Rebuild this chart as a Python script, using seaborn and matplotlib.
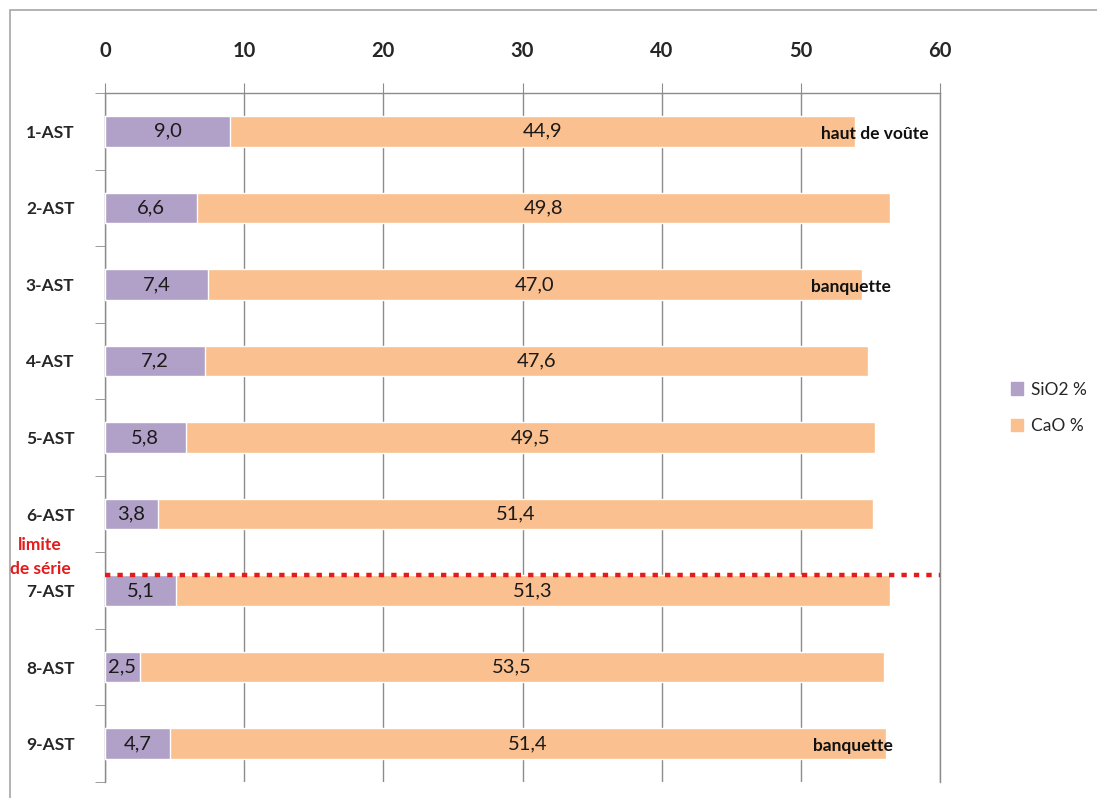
import numpy as np
import pandas as pd
import matplotlib.pyplot as plt
import matplotlib.patches as mpatches
import seaborn as sns

# data
samples = ["1-AST", "2-AST", "3-AST", "4-AST", "5-AST", "6-AST", "7-AST", "8-AST", "9-AST"]
sio2 = [9.0, 6.6, 7.4, 7.2, 5.8, 3.8, 5.1, 2.5, 4.7]
cao = [44.9, 49.8, 47.0, 47.6, 49.5, 51.4, 51.3, 53.5, 51.4]
notes = {0: ("haut de voûte", 59.2), 2: ("banquette", 56.5), 8: ("banquette", 56.6)}
xticks = [0, 10, 20, 30, 40, 50, 60]

c_sio2 = "#B1A0C7"
c_cao = "#FAC08F"
grid_c = "#8C8C8C"

df = pd.DataFrame({"sample": samples, "SiO2": sio2, "CaO": cao})
df["total"] = df["SiO2"] + df["CaO"]

sns.set_style("white")
plt.rcParams["font.family"] = ["Lato", "DejaVu Sans"]

fig = plt.figure(figsize=(10.97, 7.98), dpi=100)
ax = fig.add_axes([105/1097, 16/798, (940-105)/1097, (798-16-93)/798])

# outer chart frame
fig.patches.append(mpatches.Rectangle((10/1097, -0.01), 1.0, 1.01 - 10/798, transform=fig.transFigure,
                                      fill=False, edgecolor="#A6A6A6", lw=1.2, zorder=0))

sns.barplot(data=df, x="total", y="sample", color=c_cao, width=0.4, ax=ax, saturation=1, zorder=3)
sns.barplot(data=df, x="SiO2", y="sample", color=c_sio2, width=0.4, ax=ax, saturation=1, zorder=4)

for i, row in df.iterrows():
    ax.text(row["SiO2"] / 2, i, f"{row['SiO2']:.1f}".replace(".", ","), ha="center", va="center",
            fontsize=14.5, color="#1a1a1a", zorder=5)
    ax.text(row["SiO2"] + row["CaO"] / 2, i, f"{row['CaO']:.1f}".replace(".", ","), ha="center",
            va="center", fontsize=14.5, color="#1a1a1a", zorder=5)

for i, (txt, xe) in notes.items():
    ax.text(xe, i + 0.03, txt, ha="right", va="center", fontsize=12.5, fontweight="bold",
            color="#111111", zorder=6)

# series limit
ax.axhline(5.8, xmin=0, xmax=1, color="#E31B1B", lw=3.2, ls=(0, (1.2, 1.6)), zorder=7, clip_on=False)
fig.text(40/1097, 1 - 545/798, "limite", color="#E31B1B", fontsize=12.5, fontweight="bold",
         ha="center", va="center")
fig.text(40/1097, 1 - 569/798, "de série", color="#E31B1B", fontsize=12.5, fontweight="bold",
         ha="center", va="center")

ax.set_xlim(0, 60)
ax.set_ylim(len(samples) - 0.5, -0.5)
ax.xaxis.tick_top()
ax.set_xticks(xticks)
ax.set_xticklabels([str(t) for t in xticks], fontsize=14.5, fontweight="bold")
ax.tick_params(axis="x", length=7, color=grid_c, pad=16)
ax.set_yticks(range(len(samples)))
ax.set_yticklabels(samples, fontsize=12.5, fontweight="bold")
ax.tick_params(axis="y", length=0, pad=22)
ax.set_yticks(np.arange(-0.5, len(samples)), minor=True)
ax.tick_params(axis="y", which="minor", length=7, color=grid_c, left=True)
ax.set_xlabel("")
ax.set_ylabel("")

ax.grid(axis="x", color=grid_c, lw=1, zorder=0)
for s in ["top", "left", "right"]:
    ax.spines[s].set_visible(True)
    ax.spines[s].set_color(grid_c)
    ax.spines[s].set_linewidth(1)
ax.spines["bottom"].set_visible(False)

handles = [mpatches.Patch(color=c_sio2, label="SiO2 %"), mpatches.Patch(color=c_cao, label="CaO %")]
fig.legend(handles=handles, loc="center left", bbox_to_anchor=(995/1097, 1 - 408/798), frameon=False,
           fontsize=12.5, handlelength=0.7, handleheight=0.7, handletextpad=0.5, labelspacing=1.2)

fig.savefig("out.png", dpi=100)
